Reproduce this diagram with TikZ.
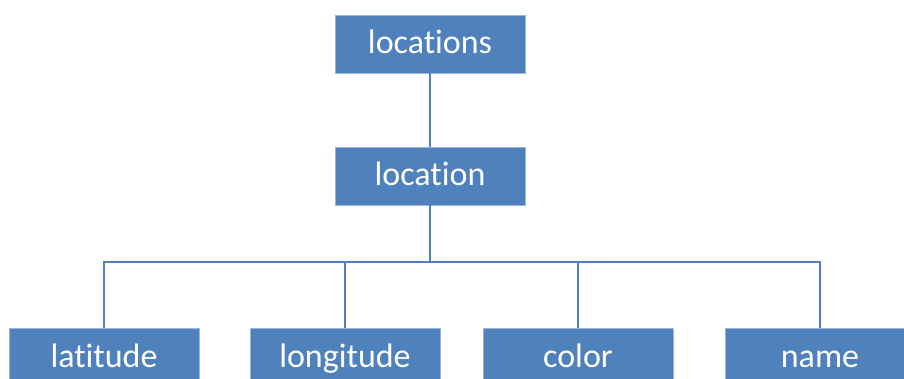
\documentclass[tikz,border=0pt]{standalone}
\usepackage{fontspec}
\setmainfont{Carlito}[Ligatures={NoCommon}]
\definecolor{boxblue}{HTML}{4F81BD}
\definecolor{boxedge}{HTML}{9DB5D6}
\begin{document}
\begin{tikzpicture}[x=1pt,y=-1pt,
  item/.style={rectangle, fill=boxblue, draw=boxedge, line width=0.8pt,
    minimum width=190pt, minimum height=58pt, inner sep=0pt,
    text height=26pt, text depth=6pt,
    text=white, font=\fontsize{34}{34}\selectfont},
  link/.style={draw=boxblue, line width=1.5pt}]
  \useasboundingbox (0,0) rectangle (904,379);
  \begin{scope}
    \clip (0,0) rectangle (904,379);
    \node[item] (locations) at (430,44) {locations};
    \node[item] (location) at (430,176) {location};
    \node[item] (latitude) at (104,357) {latitude};
    \node[item] (longitude) at (345,357) {longitude};
    \node[item] (color) at (578,357) {color};
    \node[item] (name) at (820,357) {name};
  \end{scope}
  \coordinate (bar) at (0,262);
  \draw[link] (locations.south) -- (location.north);
  \draw[link] (location.south) -- (location.south |- bar);
  \draw[link] (latitude.north) -- (latitude.north |- bar) -- (name.north |- bar) -- (name.north);
  \draw[link] (longitude.north) -- (longitude.north |- bar);
  \draw[link] (color.north) -- (color.north |- bar);
\end{tikzpicture}
\end{document}
